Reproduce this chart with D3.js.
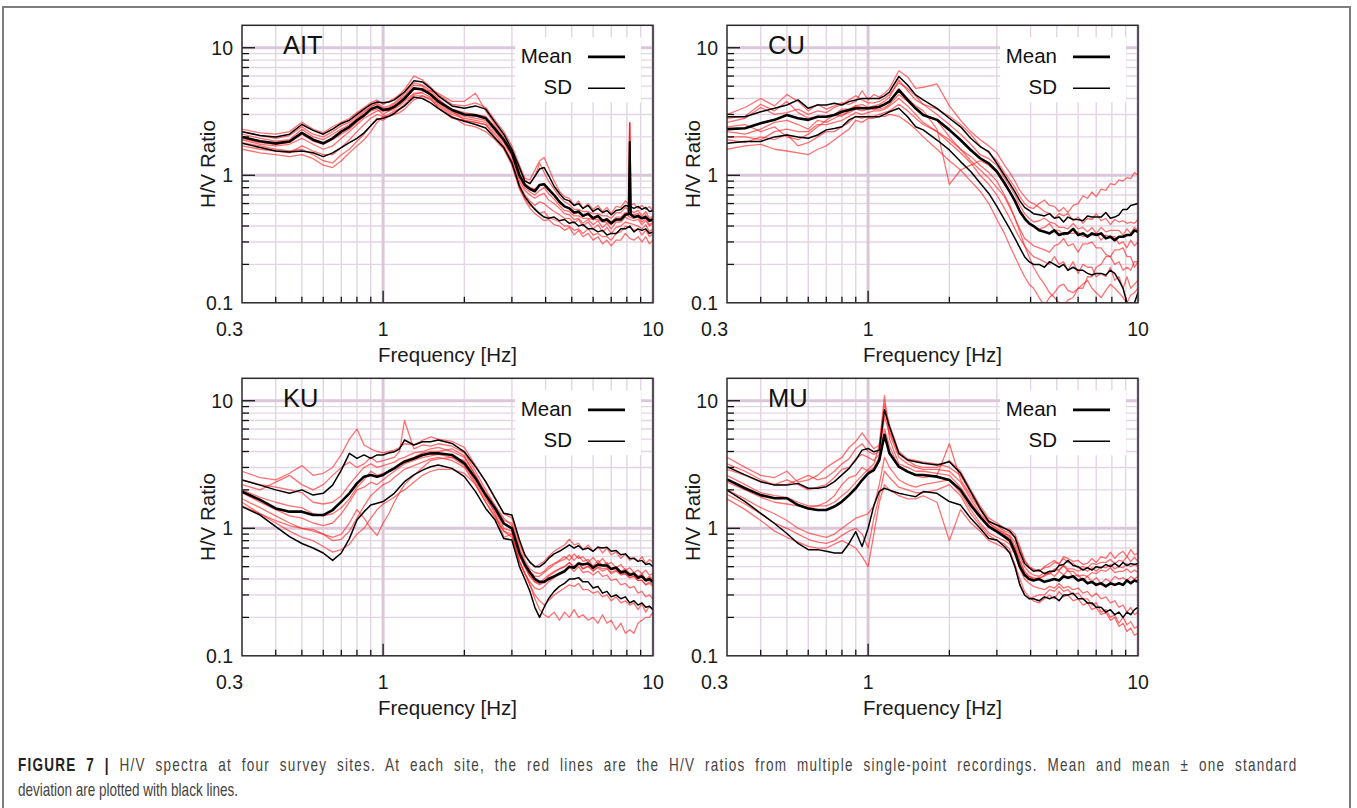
<!DOCTYPE html>
<html>
<head>
<meta charset="utf-8">
<script src="https://cdn.jsdelivr.net/npm/d3@7"></script>
<style>
  body { margin: 0; background: #fff; }
  svg text { font-family: "Liberation Sans", Arial, sans-serif; }
</style>
</head>
<body>
<svg id="chart" width="1357" height="808"></svg>
<script>
// frequencies (Hz) shared by every curve, denser above 3 Hz where the records are noisy
var freqs = [0.3,0.35,0.4,0.45,0.5,0.55,0.6,0.65,0.7,0.75,0.8,0.85,0.9,0.95,
  1.0,1.05,1.1,1.15,1.2,1.3,1.4,1.5,1.6,1.8,2.0,2.2,2.4,2.6,2.8,3.0,
  3.2,3.35,3.5,3.65,3.8,3.95,4.1,4.3,4.5,4.7,4.9,5.1,5.3,5.5,5.75,6.0,6.25,6.5,6.75,7.0,
  7.3,7.6,7.9,8.2,8.5,8.8,9.1,9.4,9.7,10];

// AIT site
var aitMean = [2.0,1.85,1.78,1.84,2.15,1.9,1.78,1.95,2.2,2.4,2.7,2.95,3.3,3.45, 3.25,3.3,3.45,3.7,4.0, 4.8,4.7,4.3,3.8, 3.25,3.0,2.95,2.8,2.3,1.9, 1.5,
  1.0,0.84,0.78,0.75,0.84,0.85,0.78,0.7,0.62,0.57, 0.55,0.51,0.52,0.48,0.5,0.46,0.48,0.44,0.45,0.42, 0.45,0.45,0.49,0.5,0.47,0.48,0.46,0.47,0.44,0.45];
var aitUpper = [2.2,2.05,2.0,2.1,2.5,2.25,2.1,2.3,2.55,2.7,3.0,3.3,3.6,3.75, 3.7,3.75,3.9,4.2,4.5, 5.5,5.4,4.8,4.2, 3.5,3.35,3.5,3.3,2.6,2.1, 1.6,
  1.15,0.9,0.86,0.98,1.12,1.15,1.0,0.82,0.72,0.65, 0.63,0.58,0.6,0.55,0.58,0.52,0.55,0.51,0.53,0.49, 0.53,0.54,0.58,0.57,0.55,0.57,0.54,0.56,0.52,0.53];
var aitLower = [1.78,1.65,1.55,1.52,1.55,1.5,1.4,1.5,1.65,1.8,1.95,2.15,2.45,2.75, 2.8,2.9,3.05,3.3,3.5, 4.1,4.0,3.7,3.35, 2.85,2.65,2.5,2.35,1.95,1.65, 1.25,
  0.82,0.68,0.6,0.54,0.5,0.47,0.46,0.47,0.44,0.45, 0.42,0.43,0.4,0.41,0.38,0.38,0.36,0.37,0.34,0.35, 0.35,0.38,0.38,0.4,0.36,0.38,0.37,0.38,0.35,0.36];
var aitRed = [
  [2.3,2.15,2.1,2.2,2.6,2.3,2.15,2.4,2.6,2.8,3.1,3.4,3.7,3.9, 3.6,3.8,4.0,4.3,4.7, 6.0,5.6,4.9,4.3, 3.6,3.5,3.7,3.4,2.7,2.2, 1.7,
   1.2,0.95,0.92,1.1,1.3,1.38,1.15,0.9,0.75,0.68, 0.66,0.58,0.63,0.55,0.6,0.54,0.58,0.52,0.56,0.5, 0.57,0.56,0.63,0.58,0.6,0.55,0.58,0.54,0.57,0.52],
  [1.6,1.5,1.45,1.4,1.45,1.35,1.2,1.15,1.3,1.5,1.7,1.9,2.2,2.6, 2.9,2.9,3.0,3.1,3.3, 3.9,4.2,3.9,3.5, 2.9,2.5,2.4,2.2,1.9,1.6, 1.2,
   0.78,0.64,0.55,0.5,0.47,0.44,0.45,0.41,0.4,0.37, 0.39,0.34,0.37,0.33,0.35,0.31,0.33,0.29,0.31,0.28, 0.31,0.31,0.35,0.32,0.31,0.33,0.3,0.33,0.29,0.31],
  [2.1,1.95,1.85,1.9,2.3,2.0,1.9,2.1,2.3,2.5,2.8,3.1,3.5,3.6, 3.3,3.4,3.6,3.9,4.2, 5.1,5.0,4.4,3.9, 3.3,3.1,3.0,2.9,2.4,1.9, 1.5,
   1.0,0.86,0.8,0.78,0.84,0.86,0.78,0.7,0.62,0.57, 0.55,0.5,0.51,0.48,0.49,0.46,0.47,0.44,0.46,0.43, 0.47,0.47,0.51,0.5,0.49,0.5,0.46,0.49,0.45,0.46],
  [1.9,1.75,1.7,1.75,1.95,1.75,1.6,1.7,1.95,2.2,2.5,2.8,3.0,3.2, 3.2,3.2,3.3,3.5,3.8, 4.4,4.4,4.1,3.6, 3.0,2.8,2.7,2.6,2.2,1.8, 1.4,
   0.9,0.76,0.7,0.66,0.7,0.72,0.64,0.6,0.55,0.5, 0.49,0.45,0.46,0.42,0.45,0.41,0.44,0.39,0.42,0.38, 0.43,0.43,0.47,0.45,0.44,0.45,0.41,0.44,0.4,0.42],
  [1.8,1.7,1.6,1.55,1.6,1.45,1.3,1.25,1.45,1.6,1.85,2.1,2.45,2.8, 2.7,2.9,3.1,3.3,3.6, 4.3,4.5,4.6,4.0, 3.2,2.7,2.6,2.5,2.1,1.7, 1.3,
   0.85,0.7,0.63,0.58,0.62,0.6,0.56,0.52,0.49,0.46, 0.46,0.42,0.45,0.4,0.43,0.38,0.41,0.36,0.39,0.35, 0.39,0.4,0.43,0.42,0.41,0.4,0.38,0.41,0.36,0.38],
  [2.2,2.05,1.95,2.05,2.4,2.1,2.0,2.2,2.45,2.6,2.9,3.2,3.4,3.7, 3.4,3.5,3.7,4.0,4.4, 5.3,5.1,4.6,4.4, 3.8,3.8,4.4,3.2,2.5,2.0, 1.55,
   1.1,0.92,0.86,0.98,1.25,1.05,0.9,0.78,0.68,0.62, 0.59,0.54,0.54,0.52,0.52,0.5,0.5,0.48,0.48,0.46, 0.51,0.51,0.56,0.53,0.51,0.53,0.48,0.52,0.46,0.48],
  [1.95,1.8,1.75,1.8,2.1,1.85,1.75,1.9,2.1,2.3,2.6,2.9,3.2,3.3, 3.0,3.2,3.4,3.6,3.9, 4.8,4.8,4.3,3.7, 3.1,2.9,2.8,2.7,2.3,1.85, 1.45,
   0.95,0.8,0.74,0.7,0.76,0.8,0.72,0.65,0.58,0.53, 0.52,0.48,0.48,0.46,0.46,0.45,0.45,0.43,0.43,0.41, 0.45,0.45,0.5,0.47,0.46,0.47,0.43,0.46,0.41,0.43],
  [1.7,1.6,1.55,1.5,1.7,1.55,1.45,1.45,1.65,1.9,2.2,2.5,2.8,3.0, 2.9,3.0,3.2,3.3,3.5, 4.2,4.2,4.0,3.4, 2.8,2.7,2.6,2.5,2.0,1.65, 1.3,
   0.8,0.66,0.58,0.55,0.5,0.52,0.47,0.45,0.43,0.4, 0.4,0.37,0.38,0.35,0.38,0.34,0.35,0.33,0.33,0.31, 0.35,0.36,0.4,0.39,0.37,0.38,0.34,0.37,0.33,0.35]
];
// narrow spike near 8.2 Hz in the AIT records
var aitSpikeFreqs = [8.12, 8.2, 8.28];
var aitSpikeRed = [0.5, 2.6, 0.5];
var aitSpikeMean = [0.5, 1.85, 0.5];

// CU site
var cuMean = [2.3,2.34,2.56,2.72,2.97,2.8,2.72,2.88,2.88,2.97,3.15,3.25,3.35,3.35, 3.35,3.4,3.45,3.6,3.78, 4.66,3.9,3.35,2.97, 2.72,2.27,1.89,1.58,1.36,1.24, 1.07,
  0.87,0.74,0.63,0.52,0.46,0.42,0.4,0.37,0.36,0.35, 0.37,0.34,0.35,0.35,0.38,0.34,0.35,0.33,0.35,0.34, 0.35,0.32,0.33,0.31,0.33,0.33,0.34,0.34,0.37,0.36];
var cuUpper = [2.88,2.88,3.15,3.35,3.56,3.9,3.35,3.56,3.56,3.67,3.56,3.78,3.9,4.0, 4.0,4.0,4.0,4.2,4.5, 5.95,5.1,4.27,3.9, 3.35,2.8,2.4,1.95,1.68,1.53, 1.24,
  1.0,0.86,0.74,0.63,0.56,0.53,0.5,0.49,0.48,0.5, 0.46,0.47,0.43,0.47,0.45,0.45,0.44,0.48,0.47,0.47, 0.47,0.51,0.46,0.47,0.49,0.54,0.54,0.58,0.59,0.6];
var cuLower = [1.78,1.84,1.84,2.0,2.07,2.0,1.95,2.07,2.27,2.33,2.4,2.72,2.88,2.88, 2.88,2.88,2.88,3.0,3.15, 3.35,2.88,2.4,2.27, 1.89,1.58,1.28,1.07,0.87,0.72, 0.57,
  0.45,0.38,0.32,0.27,0.23,0.21,0.2,0.2,0.19,0.21, 0.2,0.19,0.2,0.18,0.19,0.18,0.18,0.17,0.165,0.17, 0.17,0.165,0.18,0.17,0.15,0.13,0.1,0.09,0.1,0.12];
var cuRed = [
  [2.6,2.8,3.4,3.0,3.1,3.3,3.0,3.2,3.1,3.4,3.6,3.9,4.2,3.9, 3.7,3.7,3.8,4.0,4.3, 5.3,4.8,4.2,3.6, 3.3,2.9,2.5,2.1,1.7,1.5, 1.3,
   1.05,0.92,0.8,0.68,0.6,0.56,0.55,0.6,0.64,0.58, 0.57,0.52,0.56,0.51,0.58,0.6,0.69,0.66,0.74,0.68, 0.78,0.76,0.86,0.84,0.92,0.9,0.96,0.94,1.05,1.0],
  [1.6,1.7,1.75,1.6,1.55,1.5,1.45,1.6,1.7,1.9,2.1,2.3,2.7,2.6, 2.8,2.8,2.9,2.9,3.0, 2.9,2.6,2.3,2.0, 1.6,1.3,1.1,0.9,0.75,0.6, 0.45,
   0.35,0.28,0.23,0.19,0.16,0.14,0.13,0.11,0.095,0.11, 0.12,0.135,0.14,0.125,0.12,0.13,0.14,0.15,0.13,0.12, 0.11,0.125,0.14,0.13,0.12,0.11,0.1,0.115,0.12,0.13],
  [3.0,3.4,4.0,3.5,4.3,3.8,3.2,3.6,3.3,3.5,3.7,3.6,3.8,4.6, 3.9,4.3,4.1,4.4,4.8, 6.6,5.9,4.8,4.9, 5.2,3.5,2.7,2.2,1.9,1.7, 1.5,
   1.2,1.05,0.9,0.76,0.68,0.62,0.6,0.56,0.52,0.5, 0.46,0.5,0.48,0.5,0.44,0.47,0.42,0.46,0.45,0.5, 0.44,0.46,0.41,0.45,0.43,0.44,0.42,0.43,0.42,0.45],
  [2.2,2.1,2.3,2.6,2.7,2.5,2.3,2.7,2.6,2.8,3.0,3.1,3.3,3.2, 3.3,3.3,3.3,3.4,3.6, 4.3,3.8,3.3,3.0, 2.7,2.0,1.6,1.3,1.1,0.95, 0.8,
   0.68,0.56,0.46,0.38,0.32,0.3,0.28,0.27,0.26,0.25, 0.28,0.29,0.32,0.28,0.29,0.25,0.29,0.29,0.3,0.27, 0.27,0.24,0.23,0.2,0.21,0.18,0.19,0.18,0.21,0.21],
  [2.4,2.5,2.2,2.4,2.0,1.9,2.1,2.4,2.7,3.0,2.9,3.2,3.5,3.4, 3.4,3.3,3.4,3.6,3.8, 4.8,4.0,3.5,3.2, 2.3,0.85,1.1,1.2,1.3,1.2, 1.05,
   0.85,0.74,0.62,0.52,0.45,0.42,0.4,0.38,0.39,0.42, 0.37,0.37,0.34,0.35,0.35,0.36,0.33,0.34,0.34,0.35, 0.31,0.34,0.33,0.33,0.29,0.3,0.27,0.31,0.28,0.3],
  [2.0,2.0,1.9,2.2,2.3,2.2,2.2,2.5,2.5,2.6,2.7,2.9,3.1,3.0, 3.1,3.2,3.2,3.3,3.5, 4.0,3.5,3.0,2.6, 2.2,1.9,1.6,1.4,1.2,1.05, 0.9,
   0.7,0.58,0.46,0.36,0.28,0.23,0.19,0.16,0.14,0.12, 0.11,0.1,0.095,0.105,0.11,0.13,0.13,0.16,0.16,0.19, 0.2,0.23,0.23,0.26,0.26,0.27,0.23,0.23,0.19,0.21],
  [2.8,2.9,3.6,3.2,3.8,3.1,2.8,2.9,2.9,3.0,3.3,3.3,3.5,3.6, 3.4,3.5,3.6,3.8,4.1, 5.6,4.6,3.9,3.6, 3.0,2.5,2.1,1.75,1.45,1.35, 1.2,
   0.95,0.82,0.7,0.58,0.5,0.46,0.43,0.44,0.46,0.43, 0.42,0.39,0.39,0.38,0.42,0.38,0.39,0.36,0.39,0.35, 0.39,0.36,0.37,0.37,0.37,0.34,0.38,0.35,0.39,0.37],
  [1.9,1.8,2.0,1.9,2.1,1.7,1.8,2.0,2.2,2.2,2.4,2.6,2.9,2.8, 2.9,2.9,3.0,3.1,3.2, 3.6,3.2,2.8,2.5, 2.2,1.8,1.5,1.25,1.0,0.85, 0.7,
   0.55,0.46,0.38,0.32,0.28,0.25,0.23,0.22,0.21,0.2, 0.23,0.2,0.21,0.18,0.21,0.17,0.2,0.19,0.19,0.16, 0.17,0.16,0.19,0.15,0.16,0.13,0.16,0.13,0.14,0.15]
];

// KU site
var kuMean = [1.94,1.67,1.43,1.35,1.35,1.27,1.27,1.39,1.62,1.88,2.25,2.54,2.62,2.54, 2.62,2.8,2.95,3.15,3.33, 3.53,3.76,3.87,3.87, 3.76,3.23,2.46,1.82,1.43,1.09, 1.0,
  0.64,0.52,0.45,0.4,0.38,0.38,0.4,0.42,0.44,0.46, 0.5,0.49,0.53,0.52,0.53,0.49,0.52,0.51,0.51,0.48, 0.49,0.45,0.46,0.43,0.44,0.41,0.42,0.39,0.4,0.38];
var kuUpper = [2.39,2.18,2.0,1.88,2.0,1.82,1.88,2.18,2.86,3.87,3.53,3.76,3.53,3.76, 3.76,3.9,3.98,4.2,4.92, 4.5,4.77,4.77,4.92, 4.63,3.98,3.04,2.32,1.72,1.31, 1.27,
  0.81,0.62,0.54,0.5,0.5,0.53,0.58,0.63,0.66,0.7, 0.74,0.7,0.73,0.68,0.7,0.66,0.71,0.7,0.71,0.66, 0.67,0.62,0.63,0.58,0.58,0.55,0.56,0.52,0.53,0.5];
var kuLower = [1.48,1.27,1.03,0.86,0.76,0.70,0.64,0.56,0.64,0.83,1.16,1.35,1.52,1.57, 1.62,1.75,1.88,2.1,2.32, 2.62,2.86,3.04,3.13, 2.95,2.54,1.94,1.43,1.16,0.83, 0.81,
  0.5,0.4,0.32,0.24,0.2,0.24,0.28,0.32,0.35,0.37, 0.4,0.4,0.41,0.38,0.38,0.34,0.35,0.31,0.32,0.29, 0.3,0.28,0.29,0.26,0.27,0.25,0.26,0.24,0.245,0.23];
var kuRed = [
  [2.8,2.5,2.4,2.7,3.1,2.6,2.7,3.0,3.8,5.0,6.0,4.5,4.2,4.0, 3.9,4.0,4.1,4.3,4.6, 4.5,4.9,5.2,5.0, 4.8,4.3,3.1,2.3,1.7,1.3, 1.2,
   0.75,0.6,0.55,0.5,0.52,0.55,0.6,0.66,0.7,0.74, 0.82,0.74,0.76,0.68,0.74,0.66,0.72,0.64,0.7,0.62, 0.65,0.58,0.63,0.56,0.59,0.55,0.6,0.53,0.57,0.54],
  [1.6,1.3,1.1,0.95,0.85,0.8,0.72,0.65,0.68,0.75,0.9,1.0,1.2,1.4, 1.55,1.65,1.75,1.9,2.0, 2.3,2.6,2.8,2.9, 2.9,2.7,2.2,1.6,1.2,0.95, 0.85,
   0.55,0.44,0.36,0.3,0.27,0.25,0.27,0.3,0.32,0.34, 0.36,0.35,0.37,0.33,0.33,0.31,0.32,0.29,0.3,0.27, 0.29,0.26,0.27,0.25,0.26,0.23,0.255,0.22,0.245,0.23],
  [2.2,2.0,2.3,2.6,2.2,2.0,2.2,2.6,3.0,3.3,3.0,3.2,3.6,3.3, 3.4,3.5,3.6,4.0,7.0, 4.2,4.5,4.4,4.6, 4.4,3.9,2.8,2.0,1.5,1.15, 1.1,
   0.7,0.56,0.48,0.45,0.44,0.46,0.5,0.53,0.56,0.6, 0.56,0.63,0.58,0.6,0.54,0.59,0.53,0.58,0.52,0.54, 0.49,0.52,0.47,0.49,0.45,0.47,0.44,0.47,0.43,0.44],
  [1.9,1.6,1.4,1.25,1.2,1.1,1.05,1.1,1.3,1.6,2.0,2.1,2.3,2.2, 2.4,2.6,2.8,3.0,3.2, 3.4,3.6,3.7,3.8, 3.6,3.1,2.3,1.7,1.35,1.0, 0.95,
   0.6,0.5,0.42,0.38,0.37,0.4,0.43,0.46,0.48,0.5, 0.54,0.5,0.53,0.48,0.5,0.47,0.49,0.46,0.48,0.44, 0.46,0.43,0.44,0.41,0.42,0.39,0.39,0.36,0.38,0.36],
  [1.7,1.45,1.25,1.1,1.0,0.95,0.9,0.85,0.9,1.1,1.4,1.2,1.0,0.88, 1.1,1.3,1.6,1.9,2.2, 2.6,3.0,3.4,3.5, 3.6,3.4,2.5,1.8,1.3,0.85, 0.9,
   0.55,0.45,0.36,0.28,0.23,0.21,0.2,0.22,0.19,0.22, 0.2,0.23,0.2,0.21,0.19,0.2,0.18,0.21,0.18,0.19, 0.16,0.18,0.15,0.16,0.15,0.18,0.19,0.2,0.2,0.22],
  [2.4,2.2,2.1,2.0,1.9,1.6,1.55,1.6,1.8,2.2,2.6,3.0,3.2,3.0, 3.1,3.2,3.3,3.5,3.6, 3.9,4.0,4.2,4.3, 4.0,3.6,2.6,1.9,1.5,1.2, 1.05,
   0.65,0.52,0.46,0.42,0.42,0.45,0.48,0.52,0.55,0.57, 0.62,0.56,0.61,0.55,0.57,0.5,0.56,0.51,0.54,0.48, 0.5,0.46,0.48,0.44,0.45,0.42,0.44,0.4,0.42,0.4],
  [1.5,1.3,1.15,1.05,1.0,0.98,0.9,0.8,0.82,0.95,1.2,1.5,1.8,2.0, 2.2,2.3,2.5,2.7,2.9, 3.1,3.3,3.5,3.6, 3.4,3.0,2.2,1.6,1.25,0.95, 0.9,
   0.55,0.44,0.38,0.34,0.33,0.35,0.38,0.41,0.44,0.46, 0.5,0.46,0.5,0.45,0.46,0.43,0.46,0.42,0.43,0.39, 0.4,0.36,0.37,0.34,0.35,0.31,0.32,0.29,0.3,0.28],
  [2.0,1.75,1.6,1.5,1.45,1.3,1.25,1.3,1.45,1.7,2.1,2.4,2.8,2.6, 2.7,2.8,3.0,3.2,3.4, 3.6,3.9,4.0,4.0, 4.2,3.7,2.6,1.8,1.45,1.1, 1.0,
   0.62,0.5,0.42,0.38,0.36,0.38,0.42,0.45,0.48,0.5, 0.54,0.49,0.54,0.48,0.51,0.46,0.5,0.48,0.49,0.45, 0.47,0.44,0.44,0.41,0.42,0.39,0.39,0.36,0.37,0.35]
];

// MU site
var muMean = [2.42,2.06,1.82,1.72,1.72,1.52,1.43,1.39,1.39,1.48,1.62,1.82,2.06,2.39, 2.7,2.86,3.43,5.4,3.87, 3.04,2.78,2.62,2.62, 2.54,2.39,2.0,1.52,1.23,1.03, 0.94,
  0.86,0.8,0.65,0.5,0.43,0.4,0.39,0.4,0.38,0.39, 0.4,0.39,0.42,0.41,0.42,0.39,0.4,0.37,0.38,0.36, 0.37,0.35,0.37,0.36,0.37,0.36,0.39,0.37,0.39,0.38];
var muUpper = [3.04,2.62,2.32,2.18,2.18,2.25,2.06,2.06,2.12,2.32,2.62,2.95,3.43,4.1, 4.23,3.98,4.1,8.5,6.25, 3.87,3.43,3.33,3.23, 3.13,3.33,2.7,1.94,1.43,1.13, 1.06,
  1.0,0.95,0.85,0.65,0.53,0.49,0.46,0.47,0.44,0.46, 0.46,0.51,0.52,0.56,0.51,0.5,0.47,0.49,0.47,0.5, 0.49,0.52,0.5,0.53,0.5,0.54,0.51,0.53,0.52,0.53];
var muLower = [1.99,1.62,1.31,1.09,0.91,0.76,0.68,0.68,0.66,0.64,0.64,0.76,0.94,0.72, 1.0,1.5,1.95,2.06,1.99, 1.88,1.82,1.77,1.94, 1.88,1.62,1.52,1.2,1.0,0.83, 0.81,
  0.72,0.64,0.5,0.36,0.3,0.28,0.28,0.27,0.29,0.28, 0.29,0.27,0.3,0.3,0.31,0.28,0.28,0.26,0.26,0.24, 0.24,0.22,0.23,0.21,0.22,0.2,0.22,0.21,0.23,0.24];
var muRed = [
  [3.6,3.0,2.6,2.5,2.8,2.3,2.4,2.6,3.0,3.3,3.6,4.3,4.8,5.6, 4.8,4.2,4.5,9.5,6.5, 4.0,3.5,3.4,3.3, 3.2,3.0,2.6,1.9,1.4,1.15, 1.05,
   0.95,0.92,0.85,0.7,0.56,0.5,0.48,0.46,0.5,0.53, 0.56,0.52,0.6,0.58,0.55,0.56,0.52,0.53,0.58,0.54, 0.6,0.58,0.65,0.58,0.63,0.66,0.6,0.68,0.62,0.64],
  [1.7,1.4,1.15,0.95,0.85,0.78,0.72,0.7,0.7,0.75,0.8,0.75,0.7,0.6, 0.5,0.9,1.6,2.2,2.0, 1.8,1.7,1.7,1.8, 1.6,0.8,1.4,1.1,0.95,0.8, 0.75,
   0.7,0.64,0.52,0.4,0.32,0.29,0.27,0.26,0.28,0.3, 0.28,0.32,0.29,0.3,0.27,0.28,0.25,0.26,0.23,0.24, 0.21,0.22,0.19,0.2,0.17,0.18,0.155,0.165,0.145,0.15],
  [2.6,2.2,1.9,1.8,1.75,1.6,1.5,1.5,1.5,1.6,1.8,2.0,2.3,2.6, 2.9,3.2,4.5,11.0,5.0, 3.2,3.0,2.8,2.8, 2.7,2.6,2.1,1.6,1.25,1.05, 0.95,
   0.88,0.84,0.7,0.55,0.45,0.42,0.4,0.41,0.42,0.45, 0.42,0.46,0.43,0.47,0.42,0.43,0.39,0.42,0.38,0.41, 0.37,0.4,0.38,0.42,0.4,0.41,0.39,0.42,0.4,0.42],
  [2.9,2.6,2.3,2.2,2.4,2.2,2.0,2.1,2.2,2.5,2.9,3.0,3.5,3.8, 3.6,3.4,3.8,7.5,5.5, 3.6,3.2,3.0,2.9, 2.9,2.8,2.3,1.7,1.3,1.1, 1.0,
   0.92,0.86,0.72,0.56,0.46,0.42,0.41,0.4,0.43,0.44, 0.47,0.47,0.51,0.48,0.48,0.46,0.48,0.46,0.49,0.46, 0.5,0.49,0.52,0.48,0.5,0.49,0.53,0.5,0.52,0.5],
  [2.0,1.7,1.45,1.3,1.15,1.0,0.92,0.88,0.85,0.9,1.0,1.1,1.2,1.25, 1.3,1.5,2.2,3.6,3.0, 2.4,2.2,2.1,2.2, 2.3,2.4,1.9,1.4,1.1,0.92, 0.85,
   0.8,0.75,0.62,0.48,0.4,0.37,0.35,0.34,0.33,0.35, 0.34,0.37,0.34,0.35,0.33,0.34,0.31,0.32,0.29,0.31, 0.28,0.29,0.26,0.27,0.24,0.25,0.22,0.24,0.21,0.22],
  [2.3,2.0,1.75,1.6,1.55,1.5,1.45,1.5,1.6,1.8,2.2,2.5,2.6,3.0, 2.8,3.0,3.6,6.0,4.4, 3.0,2.8,2.6,2.5, 2.6,4.6,2.4,1.8,1.4,1.1, 0.98,
   0.9,0.88,0.78,0.6,0.5,0.45,0.43,0.42,0.45,0.44, 0.48,0.47,0.51,0.46,0.46,0.42,0.43,0.42,0.45,0.44, 0.47,0.46,0.49,0.45,0.46,0.46,0.48,0.45,0.47,0.45],
  [1.85,1.55,1.3,1.1,1.0,0.9,0.82,0.78,0.76,0.8,0.88,0.95,1.0,0.9, 0.7,1.2,1.8,2.8,2.5, 2.1,2.0,1.9,1.9, 2.0,2.2,1.8,1.3,1.05,0.88, 0.8,
   0.75,0.68,0.5,0.36,0.3,0.28,0.29,0.3,0.3,0.33, 0.32,0.35,0.32,0.33,0.3,0.31,0.28,0.28,0.25,0.26, 0.22,0.23,0.2,0.21,0.18,0.2,0.175,0.185,0.165,0.17],
  [3.2,2.8,2.4,2.2,2.2,2.4,2.6,2.4,2.5,2.8,3.2,3.5,4.2,4.6, 4.0,3.8,4.0,8.5,5.8, 3.8,3.4,3.1,3.0, 3.0,3.4,2.8,2.0,1.5,1.2, 1.1,
   1.0,0.98,0.9,0.72,0.56,0.5,0.47,0.46,0.49,0.5, 0.54,0.53,0.58,0.54,0.53,0.49,0.5,0.49,0.53,0.52, 0.54,0.54,0.57,0.53,0.56,0.55,0.6,0.55,0.59,0.55]
];

// axis ticks
var xTickVals = [0.3, 1, 10];
var yTickVals = [0.1, 1, 10];
var xMinor = [0.4,0.5,0.6,0.7,0.8,0.9,2,3,4,5,6,7,8,9];
var yMinor = [0.2,0.3,0.4,0.5,0.6,0.7,0.8,0.9,2,3,4,5,6,7,8,9];
var xMajor = [1, 10];
var yMajor = [1, 10];

var panels = [
  { name: "AIT", mean: aitMean, upper: aitUpper, lower: aitLower, reds: aitRed },
  { name: "CU", mean: cuMean, upper: cuUpper, lower: cuLower, reds: cuRed },
  { name: "KU", mean: kuMean, upper: kuUpper, lower: kuLower, reds: kuRed },
  { name: "MU", mean: muMean, upper: muUpper, lower: muLower, reds: muRed }
];

// layout of the 2x2 grid
var origins = [[242, 25.3], [727, 25.3], [242, 378.3], [727, 378.3]];
var pw = 411, ph = 277.5;

var svg = d3.select("#chart");

// light frame round the whole figure
svg.append("rect")
  .attr("x", 3).attr("y", 7)
  .attr("width", 1347).attr("height", 830)
  .attr("fill", "none")
  .attr("stroke", "#7d7d7d")
  .attr("stroke-width", 2);

var x = d3.scaleLog().domain([0.3, 10]).range([0, pw]);
var y = d3.scaleLog().domain([0.1, 15]).range([ph, 0]);

var line = d3.line()
  .defined(function(d) { return d[1] != null; })
  .x(function(d) { return x(d[0]); })
  .y(function(d) { return y(d[1]); });

var pairs = function(vals, fs) {
  fs = fs || freqs;
  return fs.map(function(f, i) { return [f, vals[i]]; });
};

panels.forEach(function(p, k) {
  var g = svg.append("g")
    .attr("transform", "translate(" + origins[k][0] + "," + origins[k][1] + ")");

  g.append("clipPath").attr("id", "clip" + k)
    .append("rect").attr("width", pw).attr("height", ph);

  // grid
  var grid = g.append("g");
  grid.selectAll(".gx").data(xMinor).enter().append("line")
    .attr("x1", x).attr("x2", x).attr("y1", 0).attr("y2", ph)
    .attr("stroke", "#e3d5e3").attr("stroke-width", 1.4);
  grid.selectAll(".gy").data(yMinor).enter().append("line")
    .attr("y1", y).attr("y2", y).attr("x1", 0).attr("x2", pw)
    .attr("stroke", "#e3d5e3").attr("stroke-width", 1.4);
  grid.selectAll(".gxm").data(xMajor).enter().append("line")
    .attr("x1", x).attr("x2", x).attr("y1", 0).attr("y2", ph)
    .attr("stroke", "#dac7da").attr("stroke-width", 3);
  grid.selectAll(".gym").data(yMajor).enter().append("line")
    .attr("y1", y).attr("y2", y).attr("x1", 0).attr("x2", pw)
    .attr("stroke", "#dac7da").attr("stroke-width", 3);

  // curves
  var curves = g.append("g").attr("clip-path", "url(#clip" + k + ")");
  curves.selectAll(".red").data(p.reds).enter().append("path")
    .attr("d", function(d) { return line(pairs(d)); })
    .attr("fill", "none")
    .attr("stroke", "#ff1a1a")
    .attr("stroke-opacity", 0.62)
    .attr("stroke-width", 1.3)
    .attr("stroke-linejoin", "round");

  if (p.name === "AIT") {
    curves.append("path")
      .attr("d", line(pairs(aitSpikeRed, aitSpikeFreqs)))
      .attr("fill", "none").attr("stroke", "#ff1a1a").attr("stroke-width", 1.6);
  }

  [p.upper, p.lower].forEach(function(sd) {
    curves.append("path")
      .attr("d", line(pairs(sd)))
      .attr("fill", "none")
      .attr("stroke", "#000")
      .attr("stroke-width", 1.5)
      .attr("stroke-linejoin", "round");
  });
  curves.append("path")
    .attr("d", line(pairs(p.mean)))
    .attr("fill", "none")
    .attr("stroke", "#000")
    .attr("stroke-width", 2.6)
    .attr("stroke-linejoin", "round");

  if (p.name === "AIT") {
    curves.append("path")
      .attr("d", line(pairs(aitSpikeMean, aitSpikeFreqs)))
      .attr("fill", "none").attr("stroke", "#000").attr("stroke-width", 2);
  }

  // ticks pointing into the plot
  g.selectAll(".tx").data(xMinor.concat([1])).enter().append("line")
    .attr("x1", x).attr("x2", x)
    .attr("y1", ph)
    .attr("y2", function(d) { return d === 1 ? ph - 12 : ph - 6; })
    .attr("stroke", "#111").attr("stroke-width", 1.3);
  g.selectAll(".ty").data(yMinor.concat([1, 10])).enter().append("line")
    .attr("y1", y).attr("y2", y)
    .attr("x1", 0)
    .attr("x2", function(d) { return (d === 1 || d === 10) ? 13 : 7; })
    .attr("stroke", "#111").attr("stroke-width", 1.3);

  // frame
  g.append("rect")
    .attr("width", pw).attr("height", ph)
    .attr("fill", "none")
    .attr("stroke", "#2a2a2a")
    .attr("stroke-width", 1.5);

  // tick labels
  g.selectAll(".lx").data(xTickVals).enter().append("text")
    .attr("x", function(d) { return d === 0.3 ? x(d) + 1 : x(d); })
    .attr("y", ph + 33)
    .attr("text-anchor", function(d) { return d === 0.3 ? "end" : "middle"; })
    .attr("font-size", 19.5)
    .attr("fill", "#1a1a1a")
    .text(function(d) { return d; });
  g.selectAll(".ly").data(yTickVals).enter().append("text")
    .attr("x", -9)
    .attr("y", y)
    .attr("dy", "0.36em")
    .attr("text-anchor", "end")
    .attr("font-size", 19.5)
    .attr("fill", "#1a1a1a")
    .text(function(d) { return d; });

  // axis titles
  g.append("text")
    .attr("x", pw / 2).attr("y", ph + 59)
    .attr("text-anchor", "middle")
    .attr("font-size", 20.5)
    .attr("fill", "#1a1a1a")
    .text("Frequency [Hz]");
  g.append("text")
    .attr("transform", "translate(-27," + (ph / 2) + ") rotate(-90)")
    .attr("text-anchor", "middle")
    .attr("font-size", 20.5)
    .attr("fill", "#1a1a1a")
    .text("H/V Ratio");

  // site name
  g.append("text")
    .attr("x", 41).attr("y", 29)
    .attr("font-size", 25.5)
    .attr("fill", "#111")
    .text(p.name);

  // legend
  var lg = g.append("g");
  lg.append("rect")
    .attr("x", 273).attr("y", 12)
    .attr("width", 126).attr("height", 65)
    .attr("fill", "#fff");
  var items = [["Mean", 2.8, 38, 31.5], ["SD", 1.4, 69, 63]];
  items.forEach(function(it) {
    lg.append("text")
      .attr("x", 330).attr("y", it[2])
      .attr("text-anchor", "end")
      .attr("font-size", 20.5)
      .attr("fill", "#111")
      .text(it[0]);
    lg.append("line")
      .attr("x1", 346).attr("x2", 383)
      .attr("y1", it[3]).attr("y2", it[3])
      .attr("stroke", "#000")
      .attr("stroke-width", it[1]);
  });
});

// caption: a narrow face, second line sets the horizontal scale,
// first line justified to the full text width
var capFont = '"Liberation Sans Narrow", "Liberation Sans", Arial, sans-serif';
var capLine1 = "H/V spectra at four survey sites. At each site, the red lines are the H/V ratios from multiple single-point recordings. Mean and mean \u00b1 one standard";
var capLine2 = "deviation are plotted with black lines.";

var cap2 = svg.append("text")
  .attr("x", 18).attr("y", 796)
  .attr("font-size", 17.5)
  .attr("fill", "#444")
  .style("font-family", capFont)
  .text(capLine2);
var sx = 220 / cap2.node().getComputedTextLength();
var squeeze = "translate(18,0) scale(" + sx + ",1) translate(-18,0)";
cap2.attr("transform", squeeze);

var cap = svg.append("text")
  .attr("x", 18).attr("y", 771)
  .attr("font-size", 17.5)
  .attr("fill", "#444")
  .style("font-family", capFont);
cap.append("tspan").attr("font-weight", "bold").attr("fill", "#222").text("FIGURE 7 | ");
cap.append("tspan").text(capLine1);
var full = "FIGURE 7 | " + capLine1;
var extra = 1280 / sx - cap.node().getComputedTextLength();
var gaps = full.split(" ").length - 1;
cap.attr("letter-spacing", extra * 0.6 / full.length)
  .attr("word-spacing", extra * 0.4 / gaps)
  .attr("transform", squeeze);
</script>
</body>
</html>
